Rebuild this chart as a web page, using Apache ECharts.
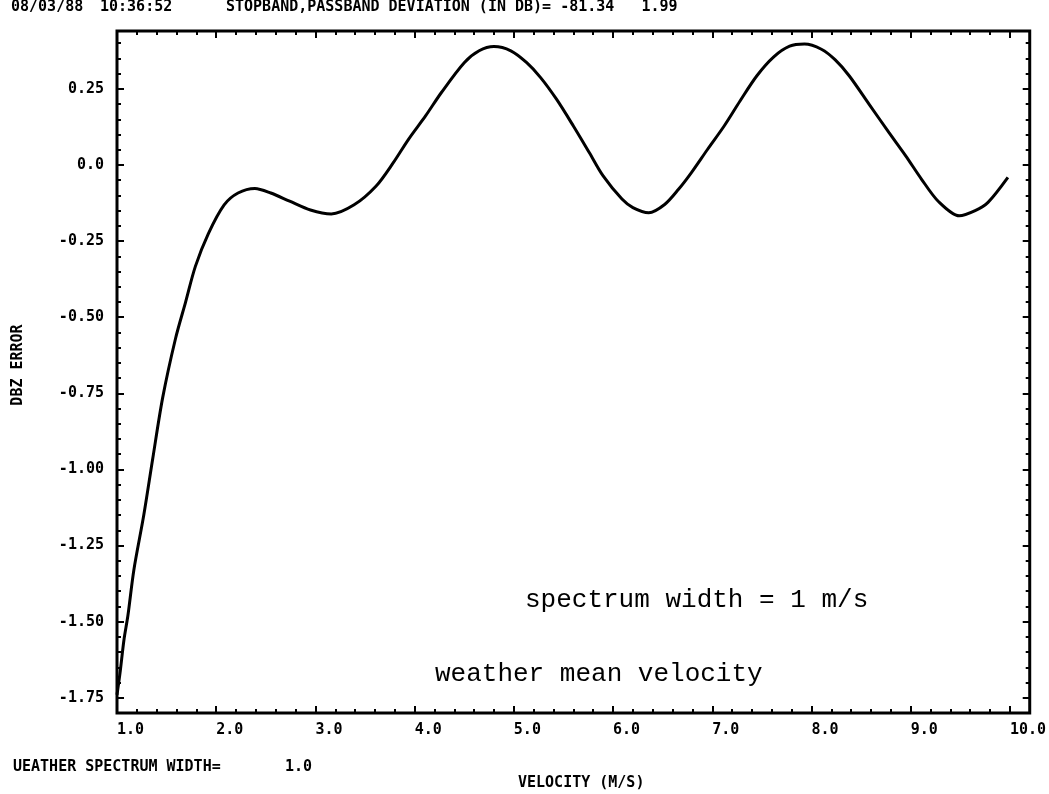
<!DOCTYPE html>
<html><head><meta charset="utf-8">
<script src="https://cdn.jsdelivr.net/npm/echarts@6/dist/echarts.min.js"></script>
<style>html,body{margin:0;padding:0;background:#fff}#c{width:1049px;height:794px}</style>
</head><body><div id="c"></div>
<script>
// ---- data ----
const velocity = [1.00, 1.03, 1.07, 1.11, 1.17, 1.27, 1.36, 1.46, 1.59, 1.69, 1.79, 1.92, 2.08, 2.22, 2.39, 2.55, 2.74, 2.95, 3.16, 3.39, 3.61, 3.78, 3.94, 4.11, 4.27, 4.50, 4.65, 4.80, 4.97, 5.13, 5.27, 5.43, 5.60, 5.76, 5.90, 6.09, 6.20, 6.36, 6.52, 6.66, 6.79, 6.95, 7.12, 7.28, 7.45, 7.62, 7.78, 7.93, 8.10, 8.24, 8.38, 8.58, 8.78, 8.95, 9.11, 9.28, 9.49, 9.65, 9.78, 9.98];
const dbzError = [-1.74, -1.67, -1.56, -1.48, -1.33, -1.15, -0.965, -0.765, -0.57, -0.452, -0.333, -0.226, -0.131, -0.092, -0.077, -0.092, -0.119, -0.148, -0.161, -0.131, -0.07, 0.005, 0.085, 0.161, 0.238, 0.336, 0.375, 0.389, 0.375, 0.336, 0.287, 0.216, 0.128, 0.041, -0.036, -0.112, -0.14, -0.157, -0.13, -0.08, -0.025, 0.05, 0.128, 0.21, 0.293, 0.355, 0.39, 0.397, 0.38, 0.345, 0.293, 0.20, 0.107, 0.03, -0.047, -0.12, -0.167, -0.15, -0.123, -0.041];
const xTickValues = [1, 2, 3, 4, 5, 6, 7, 8, 9, 10];
const xTickLabels = ['1.0', '2.0', '3.0', '4.0', '5.0', '6.0', '7.0', '8.0', '9.0', '10.0'];
const yTickValues = [0.25, 0, -0.25, -0.5, -0.75, -1.0, -1.25, -1.5, -1.75];
const yTickLabels = ['0.25', '0.0', '-0.25', '-0.50', '-0.75', '-1.00', '-1.25', '-1.50', '-1.75'];
const headerTexts = ['08/03/88', '10:36:52', 'STOPBAND,PASSBAND DEVIATION (IN DB)= -81.34   1.99'];
const footerLabel = 'UEATHER SPECTRUM WIDTH=';
const footerValue = '1.0';
const xTitle = 'VELOCITY (M/S)';
const yTitle = 'DBZ ERROR';
const notes = ['spectrum width = 1 m/s', 'weather mean velocity'];

// ---- axis ranges ----
const X_MIN = 1.0, X_MAX = 10.2, Y_MIN = -1.8, Y_MAX = 0.44;
const xMinor = [], yMinor = [];
for (let i = 0; i <= 46; i++) xMinor.push(+(1 + i * 0.2).toFixed(2));
for (let i = 0; i <= 44; i++) yMinor.push(+(-1.8 + i * 0.05).toFixed(2));

const MONO = '"DejaVu Sans Mono", monospace';
const PFONT = 'bold 15px ' + MONO;
function lab(vals, labels) {
  return v => { const i = vals.findIndex(t => Math.abs(t - v) < 1e-6); return i >= 0 ? labels[i] : ''; };
}
function xAxis(pos, values, len, labels) {
  return {
    type: 'value', position: pos, min: X_MIN, max: X_MAX,
    axisLine: { show: false, onZero: false }, splitLine: { show: false },
    axisTick: { show: true, inside: true, length: len, customValues: values, lineStyle: { color: '#000', width: 2 } },
    axisLabel: labels ? { show: true, customValues: xTickValues, formatter: lab(xTickValues, xTickLabels), align: 'left', margin: 10,
      color: '#000', fontFamily: MONO, fontWeight: 'bold', fontSize: 15 } : { show: false }
  };
}
function yAxis(pos, values, len, labels) {
  return {
    type: 'value', position: pos, min: Y_MIN, max: Y_MAX,
    axisLine: { show: false, onZero: false }, splitLine: { show: false },
    axisTick: { show: true, inside: true, length: len, customValues: values, lineStyle: { color: '#000', width: 2 } },
    axisLabel: labels ? { show: true, customValues: yTickValues, formatter: lab(yTickValues, yTickLabels), margin: 13,
      color: '#000', fontFamily: MONO, fontWeight: 'bold', fontSize: 15 } : { show: false }
  };
}
const chart = echarts.init(document.getElementById('c'), null, { renderer: 'canvas' });
chart.setOption({
  backgroundColor: '#fff',
  animation: false,
  grid: { left: 117, top: 31, width: 925, height: 682, show: true, borderColor: '#000', borderWidth: 3, backgroundColor: 'transparent' },
  xAxis: [xAxis('bottom', xTickValues, 7, true), xAxis('bottom', xMinor, 4, false), xAxis('top', xTickValues, 7, false), xAxis('top', xMinor, 4, false)],
  yAxis: [yAxis('left', yTickValues, 7, true), yAxis('left', yMinor, 4, false), yAxis('right', yTickValues, 7, false), yAxis('right', yMinor, 4, false)],
  series: [{
    type: 'line', xAxisIndex: 0, yAxisIndex: 0, showSymbol: false, smooth: 0.3,
    lineStyle: { color: '#000', width: 3 },
    data: velocity.map((v, i) => [v, dbzError[i]])
  }],
  graphic: [
    { type: 'text', left: 11, top: 0, style: { text: headerTexts[0], font: PFONT, fill: '#000' } },
    { type: 'text', left: 100, top: 0, style: { text: headerTexts[1], font: PFONT, fill: '#000' } },
    { type: 'text', left: 226, top: 0, style: { text: headerTexts[2], font: PFONT, fill: '#000' } },
    { type: 'text', left: 13, top: 760, style: { text: footerLabel, font: PFONT, fill: '#000' } },
    { type: 'text', left: 285, top: 760, style: { text: footerValue, font: PFONT, fill: '#000' } },
    { type: 'text', left: 518, top: 776, style: { text: xTitle, font: PFONT, fill: '#000' } },
    { type: 'text', x: 18, y: 365, rotation: Math.PI / 2, style: { text: yTitle, font: PFONT, fill: '#000', align: 'center', verticalAlign: 'middle' } },
    { type: 'text', left: 525, top: 587, style: { text: notes[0], font: '26px "Liberation Mono", monospace', fill: '#000' } },
    { type: 'text', left: 435, top: 661, style: { text: notes[1], font: '26px "Liberation Mono", monospace', fill: '#000' } }
  ]
});
</script></body></html>
